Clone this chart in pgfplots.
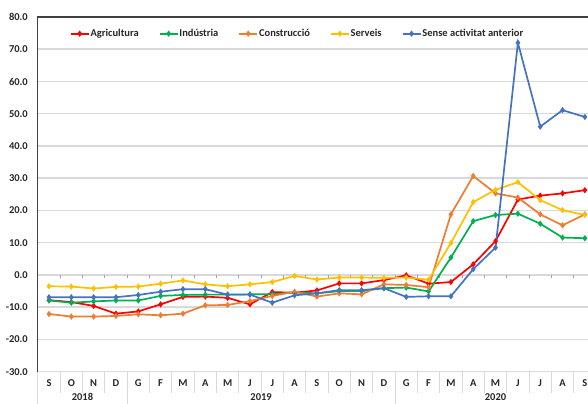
\documentclass[border=0pt]{standalone}
\usepackage{pgfplots}
\usepackage{pgfplotstable}
\pgfplotsset{compat=1.18}
\usepackage{fontspec}
\setmainfont{Carlito}

\definecolor{cAgr}{RGB}{255,0,0}
\definecolor{cInd}{RGB}{0,176,80}
\definecolor{cCon}{RGB}{237,125,49}
\definecolor{cSer}{RGB}{255,192,0}
\definecolor{cSen}{RGB}{68,114,196}
\definecolor{gridc}{RGB}{217,217,217}
\definecolor{framec}{RGB}{64,64,64}

% month index, then one column per sector
\pgfplotstableread{
i  agr   ind   con   ser   sen
0  -7.8  -7.9  -12.1 -3.5  -6.9
1  -8.4  -8.6  -12.9 -3.6  -6.9
2  -9.6  -8.2  -12.9 -4.2  -6.9
3  -12.0 -7.9  -12.7 -3.7  -6.9
4  -11.3 -7.9  -12.2 -3.6  -6.2
5  -9.1  -6.5  -12.5 -2.7  -5.2
6  -6.8  -6.2  -12.0 -1.7  -4.4
7  -6.7  -6.1  -9.4  -2.9  -4.4
8  -7.1  -6.1  -9.3  -3.5  -6.1
9  -9.1  -6.0  -8.1  -2.9  -6.1
10 -5.3  -6.0  -6.5  -2.2  -8.6
11 -5.5  -5.4  -5.2  -0.3  -6.3
12 -4.8  -5.7  -6.7  -1.4  -5.7
13 -2.6  -5.0  -5.7  -0.8  -4.7
14 -2.6  -5.0  -6.0  -0.8  -4.7
15 -1.6  -4.1  -2.9  -0.9  -4.1
16 -0.1  -3.9  -3.1  -0.8  -6.8
17 -2.7  -5.1  -3.8  -1.5  -6.6
18 -2.2  5.4   18.8  9.9   -6.6
19 3.3   16.7  30.7  22.6  1.8
20 10.5  18.6  25.3  26.4  8.5
21 23.4  19.0  24.0  28.8  72.0
22 24.6  15.9  18.8  23.2  46.0
23 25.3  11.6  15.4  20.1  51.1
24 26.3  11.4  18.8  18.6  49.0
}\data

\newcommand{\lblfont}{\bfseries\fontsize{10.5}{12}\selectfont}

\begin{document}
\begin{tikzpicture}
\begin{axis}[
    x=22.33pt, y=3.225pt,
    xmin=-0.5, xmax=24.5, ymin=-30, ymax=80,
    ytick={-30,-20,...,80},
    xtick={0,...,24},
    xticklabels={S,O,N,D,G,F,M,A,M,J,J,A,S,O,N,D,G,F,M,A,M,J,J,A,S},
    major tick length=0pt,
    ymajorgrids,
    grid style={gridc, line width=1.5pt},
    axis line style={draw=none},
    tick label style={font=\lblfont, text=black!85},
    yticklabel style={xshift=-6.5pt,
        /pgf/number format/.cd, fixed, fixed zerofill, precision=1, assume math mode=true},
    xticklabel style={yshift=-4pt},
    clip=false,
    every axis plot/.append style={line width=1.7pt, mark=diamond*, mark size=1.8pt},
    legend columns=5,
    legend style={at={(0.057,0.953)}, anchor=west, draw=none, fill=none,
        font=\lblfont, text=black!85, inner sep=0pt,
        nodes={inner sep=1pt},
        /tikz/every even column/.append style={column sep=19pt}},
    legend image code/.code={
        \draw[mark repeat=2, mark phase=2, #1] plot coordinates {(0pt,0pt) (9pt,0pt) (18pt,0pt)};},
]
% frame and category separators
\draw[framec, line width=1.2pt] (axis cs:-0.5,-30) -- (axis cs:-0.5,80) -- (axis cs:24.5,80);
\pgfplotsinvokeforeach{0,...,24}{
    \draw[gridc!75!black, line width=0.8pt] (axis cs:#1+0.5,0) -- ++(0pt,-3pt);
    \draw[gridc, line width=1pt] (axis cs:#1+0.5,-30) -- ++(0pt,-21pt);
}
\draw[gridc, line width=1pt] (axis cs:-0.5,-30) -- ++(0pt,-40pt);
\draw[gridc, line width=1pt] (axis cs:3.5,-30) -- ++(0pt,-40pt);
\draw[gridc, line width=1pt] (axis cs:15.5,-30) -- ++(0pt,-40pt);
\node[font=\lblfont, text=black!85] at (axis cs:1.5,-30) [yshift=-25pt] {2018};
\node[font=\lblfont, text=black!85] at (axis cs:9.5,-30) [yshift=-25pt] {2019};
\node[font=\lblfont, text=black!85] at (axis cs:20,-30) [yshift=-25pt] {2020};

\addplot[cAgr, mark options={fill=cAgr}] table[x=i, y=agr] {\data};
\addlegendentry{Agricultura}
\addplot[cInd, mark options={fill=cInd}] table[x=i, y=ind] {\data};
\addlegendentry{Indústria}
\addplot[cCon, mark options={fill=cCon}] table[x=i, y=con] {\data};
\addlegendentry{Construcció}
\addplot[cSer, mark options={fill=cSer}] table[x=i, y=ser] {\data};
\addlegendentry{Serveis}
\addplot[cSen, mark options={fill=cSen}] table[x=i, y=sen] {\data};
\addlegendentry{Sense activitat anterior}

\coordinate (bbll) at (axis cs:-2.194,-40);
\coordinate (bbur) at (axis cs:24.14,85.27);
\end{axis}
\pgfresetboundingbox
\path[use as bounding box] (bbll) rectangle (bbur);
\end{tikzpicture}
\end{document}
